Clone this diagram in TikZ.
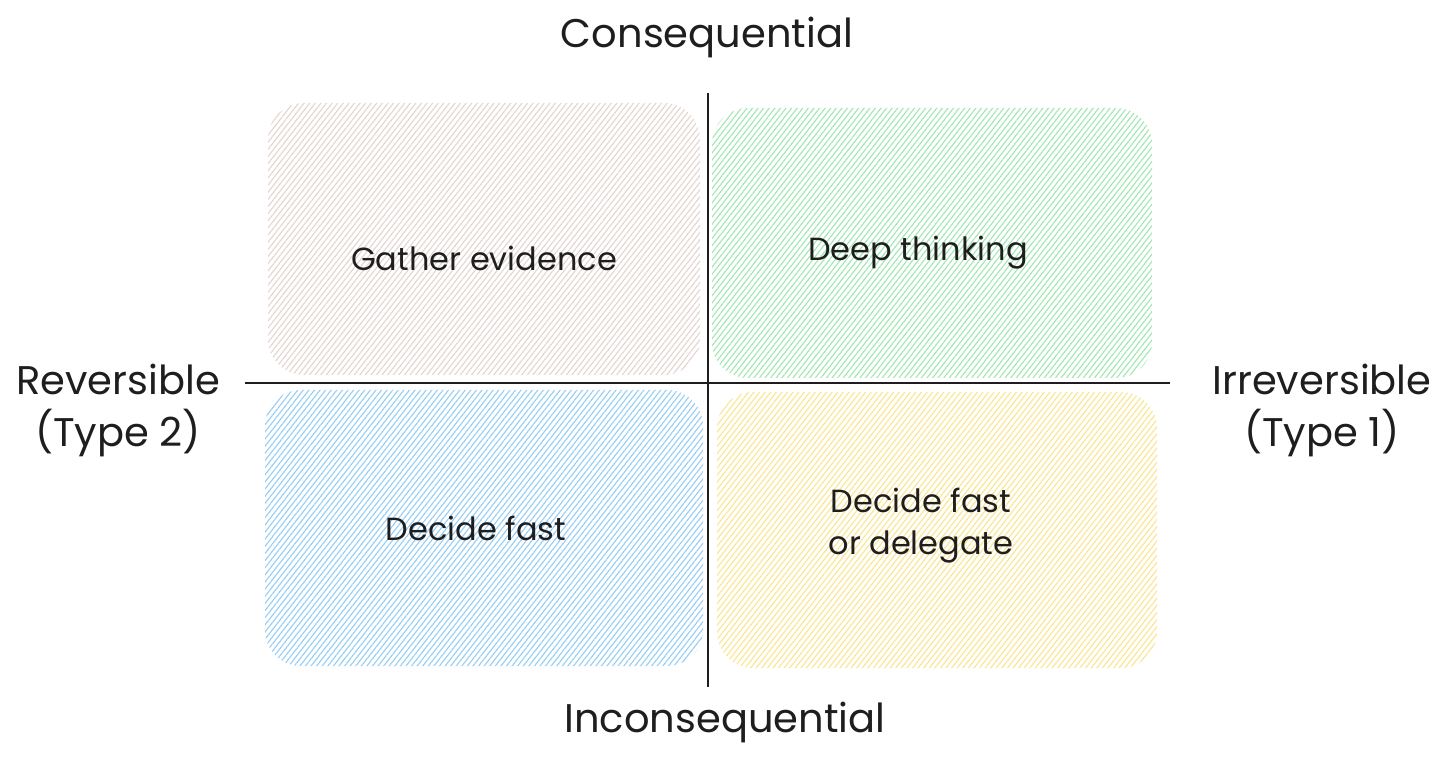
\documentclass[tikz,border=0pt]{standalone}
\usepackage{fontspec}
\setmainfont{Poppins}
\usepackage{xcolor}
\definecolor{ink}{RGB}{30,30,30}
\definecolor{rosehatch}{RGB}{228,212,206}
\definecolor{greenhatch}{RGB}{160,230,175}
\definecolor{bluehatch}{RGB}{150,205,245}
\definecolor{yellowhatch}{RGB}{250,228,140}
\usetikzlibrary{patterns.meta,positioning}
\tikzset{
  quad/.style={rounded corners=18pt,inner sep=0pt,
    pattern={Lines[angle=52,distance=2.2pt,line width=0.55pt]},
    pattern color=#1},
  quadtext/.style={font=\fontsize{16}{21}\selectfont,text=ink,align=center},
  axisline/.style={draw=ink,line width=1pt},
  axislabel/.style={font=\fontsize{20}{26}\selectfont,text=ink,align=center},
}

\begin{document}
\begin{tikzpicture}[x=0.5pt,y=-0.5pt]
\useasboundingbox (0,0) rectangle (1456,764);
% quadrants
\node[quad=rosehatch,minimum width=216pt,minimum height=136pt] (gather) at (484,239) {};
\node[quad=greenhatch,minimum width=220pt,minimum height=135pt] (deep) at (932,243) {};
\node[quad=bluehatch,minimum width=219pt,minimum height=138pt] (fast) at (484,528) {};
\node[quad=yellowhatch,minimum width=220pt,minimum height=138pt] (delegate) at (937,530) {};
\node[quadtext] (gathertxt) at ([yshift=-9.5pt]gather.center) {Gather evidence};
\node[quadtext] (deeptxt) at ([xshift=-7pt,yshift=-5pt]deep.center) {Deep thinking};
\node[quadtext] (fasttxt) at ([xshift=-4pt]fast.center) {Decide fast};
\node[quadtext] (delegatetxt) at ([xshift=-8pt,yshift=2pt]delegate.center) {Decide fast\\or delegate};
% axes
\coordinate (west) at (245,383);
\coordinate (east) at (1170,383);
\coordinate (north) at (708,93);
\coordinate (south) at (708,687);
\draw[axisline] (west) -- (east);
\draw[axisline] (north) -- (south);
% labels
\node[axislabel] (conseq) at (707,37) {Consequential};
\node[axislabel] (inconseq) at (725,722) {Inconsequential};
\node[axislabel] (rev) at (118,410) {Reversible\\(Type 2)};
\node[axislabel] (irrev) at (1322,410) {Irreversible\\(Type 1)};
\end{tikzpicture}
\end{document}
